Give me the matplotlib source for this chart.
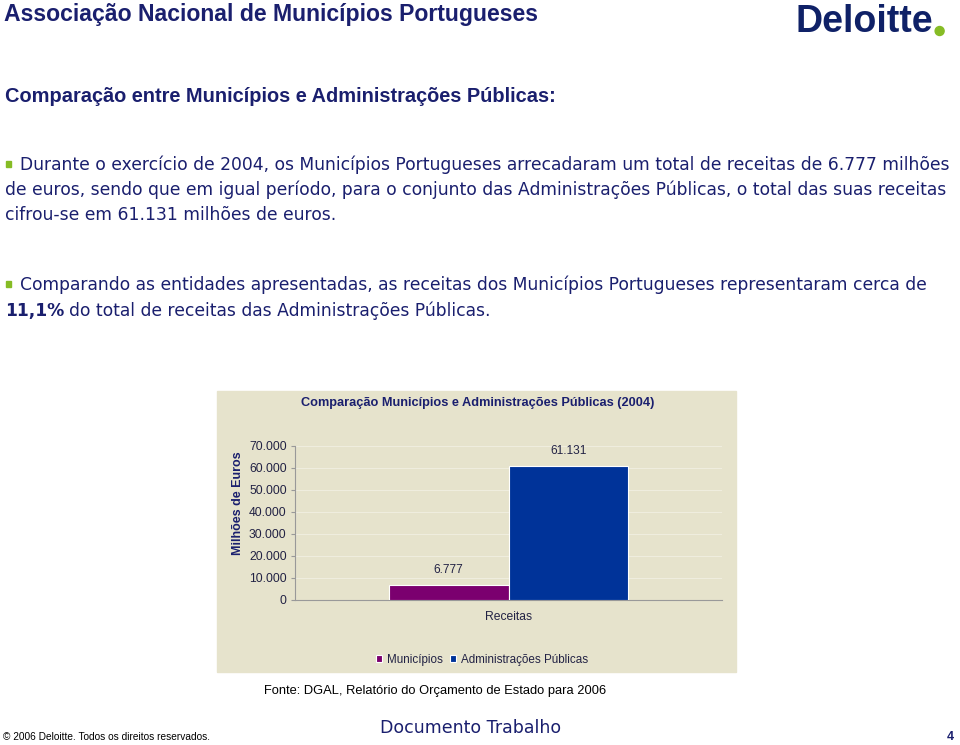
import matplotlib
matplotlib.use("Agg")
import matplotlib.pyplot as plt
from matplotlib.patches import Rectangle, Ellipse

# ---- data ----
categories = ["Receitas"]
series_names = ["Municípios", "Administrações Públicas"]
values_municipios = [6777]
values_admin = [61131]
value_labels_municipios = ["6.777"]
value_labels_admin = ["61.131"]
yticks = [0, 10000, 20000, 30000, 40000, 50000, 60000, 70000]
ytick_labels = ["0", "10.000", "20.000", "30.000", "40.000", "50.000", "60.000", "70.000"]

W, H = 960, 745
NAVY = "#1a1f6e"
GREEN = "#86bc25"
PURPLE = "#7b006f"
BLUE = "#003399"
BEIGE = "#e6e3cc"

fig = plt.figure(figsize=(W / 100, H / 100), dpi=100)
fig.patch.set_facecolor("white")

def fx(x):
    return x / W

def fy(y):
    return 1 - y / H

def T(x, y, s, **kw):
    kw.setdefault("va", "center")
    kw.setdefault("ha", "left")
    return fig.text(fx(x), fy(y), s, **kw)

NARROW = ["Liberation Sans Narrow", "Liberation Sans", "DejaVu Sans"]
BODY = ["DejaVu Sans"]
ARIAL = ["Liberation Sans", "DejaVu Sans"]

# header
T(4, 15, "Associação Nacional de Municípios Portugueses", fontsize=16.6, fontweight="bold",
  color=NAVY, family=NARROW)
logo = T(796, 22, "Deloitte", fontsize=27, fontweight="bold", color="#0f2167", family=ARIAL)
fig.canvas.draw()
r = fig.canvas.get_renderer()
bb = logo.get_window_extent(r)
fig.add_artist(Ellipse((fx(bb.x1 + 6), fy(31)), 9 / W, 9 / H, color=GREEN,
                       transform=fig.transFigure))

T(5, 97, "Comparação entre Municípios e Administrações Públicas:", fontsize=14.4,
  fontweight="bold", color=NAVY, family=NARROW)

# bullets
def bullet(y):
    fig.add_artist(Rectangle((fx(6), fy(y + 3)), 5 / W, 6 / H, color=GREEN,
                             transform=fig.transFigure))

BFS = 12.3
bullet(164)
T(20, 165, "Durante o exercício de 2004, os Municípios Portugueses arrecadaram um total de receitas de 6.777 milhões",
  fontsize=BFS, color=NAVY, family=BODY)
T(5, 190, "de euros, sendo que em igual período, para o conjunto das Administrações Públicas, o total das suas receitas",
  fontsize=BFS, color=NAVY, family=BODY)
T(5, 215, "cifrou-se em 61.131 milhões de euros.", fontsize=BFS, color=NAVY, family=BODY)

bullet(284)
T(20, 285, "Comparando as entidades apresentadas, as receitas dos Municípios Portugueses representaram cerca de",
  fontsize=BFS, color=NAVY, family=BODY)
b = T(5, 311, "11,1%", fontsize=BFS, color=NAVY, family=BODY, fontweight="bold")
fig.canvas.draw()
bb = b.get_window_extent(fig.canvas.get_renderer())
T(bb.x1 + 5, 311, "do total de receitas das Administrações Públicas.", fontsize=BFS, color=NAVY, family=BODY)

# chart panel
fig.add_artist(Rectangle((fx(217), fy(672)), (736 - 217) / W, (672 - 391) / H,
                         color=BEIGE, transform=fig.transFigure, zorder=0))
T(478, 403, "Comparação Municípios e Administrações Públicas (2004)", ha="center",
  fontsize=9.2, fontweight="bold", color=NAVY, family=ARIAL)

ax = fig.add_axes([fx(295), fy(600), (722 - 295) / W, (600 - 446) / H])
ax.set_facecolor(BEIGE)
ax.patch.set_alpha(0)
x = list(range(len(categories)))
bw = 0.28
b1 = ax.bar([i - bw / 2 for i in x], values_municipios, width=bw, color=PURPLE,
            edgecolor="white", linewidth=0.8, label=series_names[0], zorder=3)
b2 = ax.bar([i + bw / 2 for i in x], values_admin, width=bw, color=BLUE,
            edgecolor="white", linewidth=0.8, label=series_names[1], zorder=3)
for bars, labs in ((b1, value_labels_municipios), (b2, value_labels_admin)):
    for rect, lab in zip(bars, labs):
        ax.annotate(lab, (rect.get_x() + rect.get_width() / 2, rect.get_height()),
                    xytext=(0, 9), textcoords="offset pixels", ha="center", va="bottom",
                    fontsize=8.6, color="#222244", family=ARIAL)
ax.set_xlim(-0.5, 0.5)
ax.set_ylim(0, 70000)
ax.set_yticks(yticks)
ax.set_yticklabels(ytick_labels, family=ARIAL, fontsize=8.7, color="#222244")
ax.set_xticks(x)
ax.set_xticklabels(categories, family=ARIAL, fontsize=8.7, color="#222244")
ax.tick_params(axis="x", length=0, pad=8)
ax.tick_params(axis="y", length=3, color="#999999", pad=3)
ax.grid(axis="y", color="#efedde", linewidth=0.8, zorder=0)
for s in ["top", "right"]:
    ax.spines[s].set_visible(False)
ax.spines["left"].set_color("#999999")
ax.spines["bottom"].set_color("#999999")
ax.spines["left"].set_linewidth(0.8)
ax.spines["bottom"].set_linewidth(0.8)
T(238, 503, "Milhões de Euros", rotation=90, ha="center", fontsize=9, fontweight="bold",
  color=NAVY, family=ARIAL)

fig.legend(handles=[b1, b2], labels=series_names, loc="center",
           bbox_to_anchor=(fx(482), fy(660)), ncol=2, frameon=False,
           prop={"family": ARIAL, "size": 8.4}, handlelength=0.55, handleheight=0.55,
           handletextpad=0.4, columnspacing=0.6, labelcolor="#222244")

T(435, 691, "Fonte: DGAL, Relatório do Orçamento de Estado para 2006", ha="center",
  fontsize=9.3, color="black", family=ARIAL)

# footer
T(3, 737, "© 2006 Deloitte. Todos os direitos reservados.", fontsize=7.3, color="black", family=ARIAL)
T(471, 728, "Documento Trabalho", ha="center", fontsize=12.5, color=NAVY, family=BODY)
T(950, 737, "4", ha="center", fontsize=9, color=NAVY, family=ARIAL, fontweight="bold")

fig.savefig("out.png", dpi=100)
